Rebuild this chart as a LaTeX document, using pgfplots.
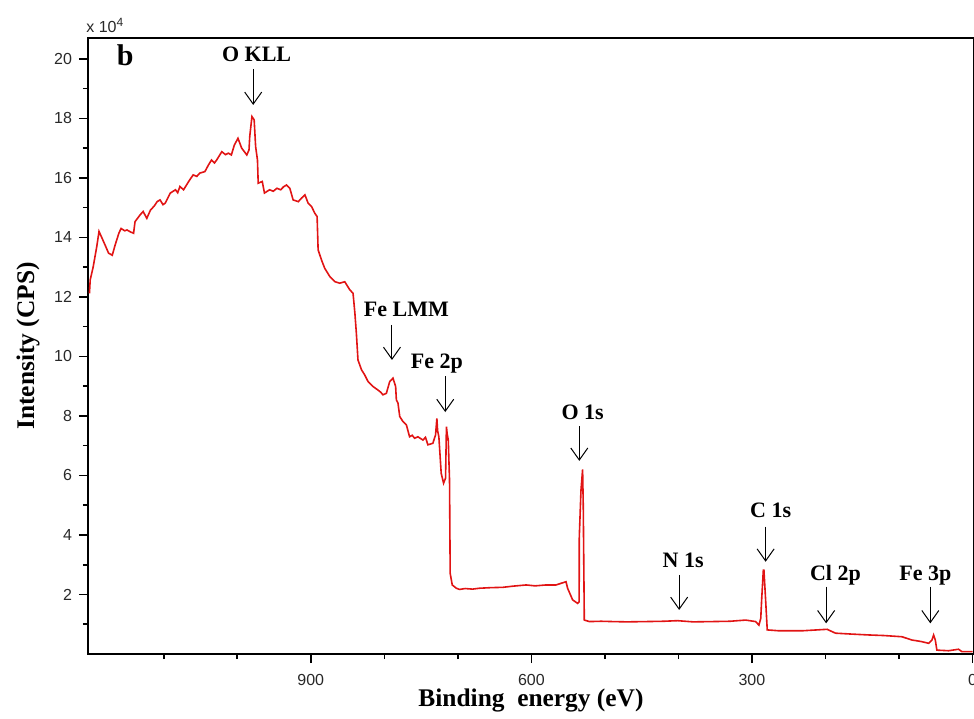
\documentclass[border=0pt]{standalone}
\usepackage{pgfplots}
\pgfplotsset{compat=1.18}
\usepackage{fontspec}
\setmainfont{Liberation Serif}
\setsansfont{Liberation Sans}
\usetikzlibrary{calc,arrows.meta}
\definecolor{xred}{RGB}{225,20,20}
\definecolor{tickgray}{RGB}{40,40,40}
\begin{document}
\begin{tikzpicture}
\begin{axis}[
  width=443pt, height=308pt, scale only axis,
  x dir=reverse,
  xmin=-2, xmax=1203, ymin=0, ymax=20.7,
  xtick={0,300,600,900},
  minor xtick={100,200,400,500,700,800,1000,1100},
  ytick={2,4,...,20},
  minor ytick={1,3,...,19},
  xtick pos=bottom, ytick pos=left,
  tick align=outside,
  major tick length=4.5pt, minor tick length=2.5pt,
  axis line style={line width=0.9pt},
  every tick/.style={line width=0.8pt, black},
  /pgf/number format/assume math mode=true,
  tick label style={font=\sffamily\fontsize{8}{9.5}\selectfont, text=tickgray},
  xticklabel style={yshift=-2pt},
  xlabel={Binding\ \ energy (eV)},
  ylabel={Intensity (CPS)},
  xlabel style={font=\bfseries\fontsize{12.7}{15}\selectfont, at={(axis description cs:0.5,-0.0747)}, anchor=center},
  ylabel style={font=\bfseries\fontsize{12.7}{15}\selectfont, at={(axis description cs:-0.0677,0.5)}, anchor=center},
  clip=false,
]
\addplot[xred, line width=0.8pt] coordinates {
(1201,12.12) (1200,12.57) (1196,13.0) (1191,13.7) (1188,14.2) (1184,13.98)
(1179,13.7) (1175,13.47) (1170,13.4) (1166,13.75) (1161,14.14) (1158,14.3)
(1153,14.22) (1150,14.25) (1145,14.18) (1141,14.14) (1139,14.53) (1132,14.76) (1128,14.87)
(1123,14.64) (1118,14.92) (1113,15.05) (1109,15.2) (1105,15.26) (1101,15.1) (1098,15.15)
(1091,15.49) (1084,15.6) (1081,15.5) (1078,15.71) (1073,15.6) (1066,15.88)
(1060,16.1) (1055,16.05) (1051,16.16) (1044,16.21) (1039,16.44) (1035,16.6)
(1031,16.5) (1028,16.6) (1021,16.88) (1016,16.78) (1012,16.83) (1008,16.77)
(1004,17.1) (999,17.33) (994,17.0) (987,16.77) (984,16.94) (983,17.39)
(980,18.06) (977,17.95) (975,17.05) (972.5,16.6) (971.5,15.82) (966,15.88)
(963,15.49) (956,15.6) (951,15.55) (946,15.65) (941,15.6) (937,15.7) (933,15.76)
(928.5,15.65) (924,15.26) (917,15.2) (912.6,15.32) (908,15.43) (903.6,15.15)
(899,15.04) (894.5,14.81) (891.4,14.7) (890,13.58) (885.4,13.24) (881,12.96)
(874,12.68) (867,12.51) (860.6,12.46) (853.8,12.51) (847,12.24) (842.5,12.12)
(840,11.45) (838,10.78) (835.8,9.88) (831,9.55) (826.7,9.38) (822,9.15)
(815.4,8.99) (808.6,8.87) (805,8.8) (801.8,8.71) (797.2,8.76) (792.7,9.15)
(788.2,9.27) (784.6,8.99) (783.6,8.54) (781.4,8.43) (779,7.98) (774.6,7.81)
(770,7.7) (765.6,7.3) (762,7.35) (758.8,7.25) (754.3,7.3) (747.5,7.19) (744,7.28)
(740.7,7.03) (734,7.08) (730.3,7.36) (728.5,7.92) (727.5,7.5) (725.8,7.3)
(722.6,6.07) (719.4,5.74) (716.7,5.91) (715.5,7.64) (714.5,7.4) (713,7.19)
(711.3,5.85) (710.4,2.71) (707.6,2.32) (702,2.21) (697.7,2.17) (690,2.2)
(680,2.18) (670.6,2.21) (655,2.23) (639,2.24) (625,2.28) (607,2.32) (595,2.29)
(580,2.32) (566.4,2.32) (552.9,2.43) (550.7,2.21) (543.9,1.82) (537,1.7)
(535,1.75) (534.8,3.94) (532.5,5.51) (530.3,6.2) (529.4,4.95) (528,1.14)
(521,1.09) (505,1.1) (489.6,1.09) (470,1.08) (444,1.09) (420,1.1) (401.4,1.12)
(380,1.08) (353.9,1.09) (330,1.1) (308.5,1.14) (295,1.09) (290.5,0.97)
(288,1.2) (286.8,1.82) (284.5,2.82) (283.7,2.82) (281.4,1.82) (279.2,0.81)
(263.3,0.78) (231.7,0.78) (197.8,0.83) (186.4,0.7) (165,0.67) (141.2,0.64)
(120,0.62) (96,0.58) (82.4,0.47) (70,0.42) (59.7,0.36) (55.2,0.47)
(52.9,0.64) (50.6,0.47) (48.5,0.13) (32.6,0.11) (19,0.16) (14.5,0.08) (0,0.08)
};
% labels
\node[font=\bfseries\fontsize{15}{17}\selectfont, anchor=base] at (axis cs:1152.5,19.78) {b};
\node[font=\bfseries\fontsize{11}{13}\selectfont, anchor=base] at (axis cs:973.7,19.90) {O KLL};
\node[font=\bfseries\fontsize{11}{13}\selectfont, anchor=base] at (axis cs:770,11.34) {Fe LMM};
\node[font=\bfseries\fontsize{11}{13}\selectfont, anchor=base] at (axis cs:728.5,9.61) {Fe 2p};
\node[font=\bfseries\fontsize{11}{13}\selectfont, anchor=base] at (axis cs:530.3,7.89) {O 1s};
\node[font=\bfseries\fontsize{11}{13}\selectfont, anchor=base] at (axis cs:393.6,2.90) {N 1s};
\node[font=\bfseries\fontsize{11}{13}\selectfont, anchor=base] at (axis cs:274.6,4.58) {C 1s};
\node[font=\bfseries\fontsize{11}{13}\selectfont, anchor=base] at (axis cs:186.4,2.46) {Cl 2p};
\node[font=\bfseries\fontsize{11}{13}\selectfont, anchor=base] at (axis cs:64.2,2.46) {Fe 3p};
% arrows
\begin{scope}[-{Straight Barb[length=6pt,width=8.5pt]}, line width=0.5pt]
\draw (axis cs:978.3,19.66) -- (axis cs:978.3,18.45);
\draw (axis cs:789.6,11.06) -- (axis cs:789.6,9.88);
\draw (axis cs:717.1,9.34) -- (axis cs:717.1,8.13);
\draw (axis cs:534.8,7.66) -- (axis cs:534.8,6.49);
\draw (axis cs:399,2.66) -- (axis cs:399,1.48);
\draw (axis cs:281.4,4.28) -- (axis cs:281.4,3.10);
\draw (axis cs:199.1,2.26) -- (axis cs:199.1,1.03);
\draw (axis cs:57.4,2.26) -- (axis cs:57.4,1.03);
\end{scope}
\node[font=\sffamily\fontsize{8}{9.5}\selectfont, text=tickgray, anchor=south west, inner sep=0pt] at ($(rel axis cs:0,1)+(-1pt,2.5pt)$) {x 10\textsuperscript{4}};
\end{axis}
\pgfresetboundingbox
\path ($(current axis.south west)+(-44pt,-32pt)$) rectangle ($(current axis.north east)+(0pt,19pt)$);
\end{tikzpicture}
\end{document}
